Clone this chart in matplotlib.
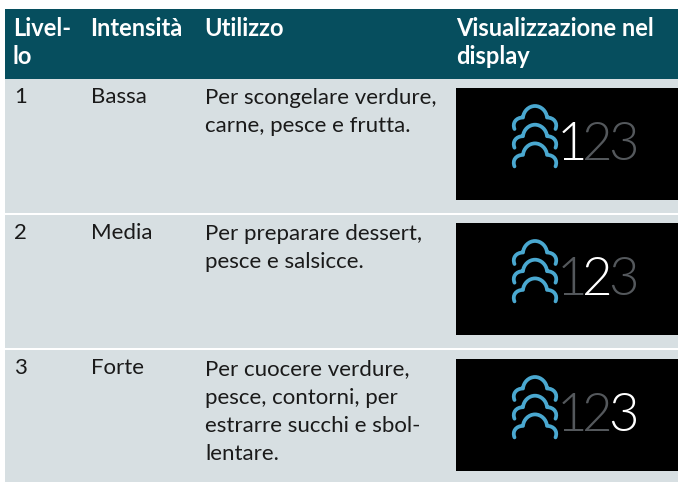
import matplotlib
matplotlib.use("Agg")
import matplotlib.pyplot as plt
from matplotlib.patches import Rectangle, PathPatch
from matplotlib.path import Path

headers = [["Livel-", "lo"], ["Intensità"], ["Utilizzo"], ["Visualizzazione nel", "display"]]
levels = ["1", "2", "3"]
intensities = ["Bassa", "Media", "Forte"]
uses = [
    ["Per scongelare verdure,", "carne, pesce e frutta."],
    ["Per preparare dessert,", "pesce e salsicce."],
    ["Per cuocere verdure,", "pesce, contorni, per", "estrarre succhi e sbol-", "lentare."],
]
display_digits = ["1", "2", "3"]

FONT = 'Lato'
HEAD = '#064e5e'; ROW = '#d7dfe2'; ICON = '#4aa8d0'; DIM = '#54585c'; INK = '#1a1a1a'
col_x = [14, 91, 205, 457]
row_y = [(79, 213), (215, 348), (350, 482)]
box_y = [88, 223, 359]

fig = plt.figure(figsize=(6.78, 4.82), dpi=100, facecolor='white')
ax = fig.add_axes([0, 0, 1, 1])
ax.set_xlim(0, 678); ax.set_ylim(482, 0); ax.axis('off')

ax.add_patch(Rectangle((5, 9), 673, 70, fc=HEAD, ec='none'))
for x, lines in zip(col_x, headers):
    for j, s in enumerate(lines):
        ax.text(x - 1, 28 + j * 29, s, family=FONT, weight='bold', fontsize=17,
                color='white', va='center', ha='left')

C4 = Path.CURVE4
cloud = [(Path.MOVETO, (-20.5, 0)),
         (C4, (-23, -6)), (C4, (-19, -11.5)), (C4, (-12, -11.5)),
         (C4, (-11.5, -18)), (C4, (-6, -23)), (C4, (0, -23)),
         (C4, (6, -23)), (C4, (11.5, -18)), (C4, (12, -11.5)),
         (C4, (19, -11.5)), (C4, (23, -6)), (C4, (20.5, 0))]

for i, (y0, y1) in enumerate(row_y):
    ax.add_patch(Rectangle((5, y0), 673, y1 - y0, fc=ROW, ec='none'))
    ax.text(col_x[0], y0 + 18, levels[i], family=FONT, fontsize=16, color=INK, va='center')
    ax.text(col_x[1], y0 + 18, intensities[i], family=FONT, fontsize=16, color=INK, va='center')
    for j, s in enumerate(uses[i]):
        ax.text(col_x[2], y0 + 19.5 + j * 28, s, family=FONT, fontsize=16, color=INK, va='center')
    by = box_y[i]
    ax.add_patch(Rectangle((456, by), 222, 112, fc='black', ec='none'))
    for k in range(3):
        oy = by + 41 + k * 18.7
        verts = [(535 + p[0], oy + p[1]) for _, p in cloud]
        ax.add_patch(PathPatch(Path(verts, [c for c, _ in cloud]), fc='none', ec=ICON, lw=2.7,
                               capstyle='round', joinstyle='round'))
    for k, (d, x) in enumerate(zip(display_digits, [572, 597, 623.5])):
        ax.text(x, by + 72, d, family=FONT, weight=300, fontsize=38,
                color='white' if k == i else DIM, va='baseline', ha='center')

fig.savefig('out.png', dpi=100, facecolor='white')
